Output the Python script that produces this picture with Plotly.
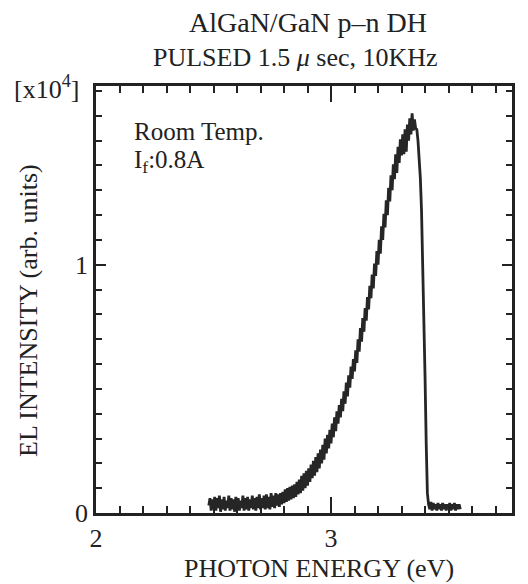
import plotly.graph_objects as go

# Photon energy (eV)
energy_ev = [
    2.480, 2.485, 2.490, 2.495, 2.500, 2.505, 2.510, 2.515, 2.520, 2.525,
    2.530, 2.535, 2.540, 2.545, 2.550, 2.555, 2.560, 2.565, 2.570, 2.575,
    2.580, 2.585, 2.590, 2.595, 2.600, 2.605, 2.610, 2.615, 2.620, 2.625,
    2.630, 2.635, 2.640, 2.645, 2.650, 2.655, 2.660, 2.665, 2.670, 2.675,
    2.680, 2.685, 2.690, 2.695, 2.700, 2.705, 2.710, 2.715, 2.720, 2.725,
    2.730, 2.735, 2.740, 2.745, 2.750, 2.755, 2.760, 2.765, 2.770, 2.775,
    2.780, 2.785, 2.790, 2.795, 2.800,
    2.805, 2.810, 2.815, 2.820, 2.825, 2.830, 2.835, 2.840, 2.845, 2.850,
    2.855, 2.860, 2.865, 2.870, 2.875, 2.880, 2.885, 2.890, 2.895, 2.900,
    2.905, 2.910, 2.915, 2.920, 2.925, 2.930, 2.935, 2.940, 2.945, 2.950,
    2.955, 2.960, 2.965, 2.970, 2.975, 2.980, 2.985, 2.990, 2.995, 3.000,
    3.005, 3.010, 3.015, 3.020, 3.025, 3.030, 3.035, 3.040, 3.045, 3.050,
    3.055, 3.060, 3.065, 3.070, 3.075, 3.080, 3.085, 3.090, 3.095, 3.100,
    3.105, 3.110, 3.115, 3.120, 3.125, 3.130, 3.135, 3.140, 3.145, 3.150,
    3.155, 3.160, 3.165, 3.170, 3.175, 3.180, 3.185, 3.190, 3.195, 3.200,
    3.205, 3.210, 3.215, 3.220, 3.225, 3.230, 3.235, 3.240, 3.245, 3.250,
    3.255, 3.260, 3.265, 3.270, 3.275, 3.280, 3.285, 3.290, 3.295, 3.300,
    3.305, 3.310, 3.315, 3.320, 3.325, 3.330, 3.335, 3.340, 3.345, 3.350,
    3.355, 3.360, 3.365, 3.370,
    3.375, 3.380, 3.385, 3.390, 3.395, 3.400, 3.405, 3.410, 3.415,
    3.420, 3.425, 3.430, 3.435, 3.440, 3.445, 3.450, 3.455, 3.460, 3.465,
    3.470, 3.475, 3.480, 3.485, 3.490, 3.495, 3.500, 3.505, 3.510, 3.515,
    3.520, 3.525, 3.530, 3.535, 3.540, 3.545, 3.550,
]

# EL intensity (x10^4, arb. units)
el_intensity = [
    0.030, 0.060, 0.010, 0.055, 0.015, 0.065, 0.010, 0.060, 0.020, 0.070,
    0.005, 0.055, 0.015, 0.065, 0.010, 0.050, 0.020, 0.070, 0.010, 0.060,
    0.015, 0.055, 0.005, 0.065, 0.015, 0.060, 0.010, 0.050, 0.020, 0.070,
    0.010, 0.060, 0.015, 0.065, 0.010, 0.055, 0.020, 0.070, 0.015, 0.060,
    0.010, 0.065, 0.020, 0.075, 0.015, 0.060, 0.020, 0.070, 0.015, 0.075,
    0.020, 0.065, 0.015, 0.080, 0.025, 0.070, 0.020, 0.080, 0.030, 0.075,
    0.025, 0.080, 0.035, 0.085, 0.040,
    0.095, 0.045, 0.100, 0.050, 0.105, 0.055, 0.110, 0.060, 0.115, 0.065,
    0.125, 0.075, 0.135, 0.080, 0.150, 0.090, 0.160, 0.100, 0.170, 0.110,
    0.180, 0.125, 0.195, 0.140, 0.210, 0.150, 0.225, 0.165, 0.240, 0.180,
    0.255, 0.200, 0.275, 0.215, 0.300, 0.240, 0.315, 0.260, 0.335, 0.280,
    0.360, 0.305, 0.385, 0.330, 0.410, 0.360, 0.435, 0.385, 0.460, 0.410,
    0.490, 0.440, 0.525, 0.470, 0.555, 0.505, 0.590, 0.540, 0.620, 0.570,
    0.655, 0.605, 0.700, 0.650, 0.745, 0.690, 0.785, 0.730, 0.825, 0.775,
    0.870, 0.820, 0.915, 0.865, 0.960, 0.905, 1.005, 0.955, 1.055, 1.000,
    1.100, 1.045, 1.155, 1.100, 1.205, 1.150, 1.260, 1.200, 1.310, 1.255,
    1.360, 1.300, 1.405, 1.345, 1.445, 1.370, 1.475, 1.410, 1.505, 1.440,
    1.525, 1.445, 1.545, 1.455, 1.565, 1.500, 1.590, 1.525, 1.610, 1.540,
    1.585, 1.550, 1.545, 1.500,
    1.440, 1.350, 1.220, 1.020, 0.800, 0.550, 0.280, 0.080, 0.035,
    0.015, 0.045, 0.010, 0.040, 0.015, 0.035, 0.010, 0.040, 0.015, 0.035,
    0.010, 0.040, 0.015, 0.035, 0.010, 0.035, 0.015, 0.040, 0.010, 0.035,
    0.015, 0.040, 0.010, 0.035, 0.015, 0.035, 0.015,
]

x_tick_vals = [2, 3]
x_tick_text = ["2", "3"]
y_tick_vals = [0, 1]
y_tick_text = ["0", "1"]

SERIF = "Liberation Serif"
FS = 26
INK = "#222"

fig = go.Figure()
fig.add_trace(go.Scatter(
    x=energy_ev, y=el_intensity, mode="lines",
    line=dict(color="#262626", width=2.8),
    showlegend=False, hoverinfo="skip",
))

# page body has an 8px margin; compensate so the plot box lands at
# x 96..512, y 86..513 of the 528x584 window
OFF = 8
W, H = 528 - OFF, 584 - OFF
L, R, T, B = 96 - OFF, 16, 86 - OFF, 71
pw, ph = W - L - R, H - T - B


def px_x(px):
    return (px - OFF - L) / pw


def px_y(py):
    return (H - B - (py - OFF)) / ph


fig.update_layout(
    width=W, height=H,
    margin=dict(l=L, r=R, t=T, b=B),
    paper_bgcolor="white", plot_bgcolor="white",
    font=dict(family=SERIF, size=FS, color=INK),
    xaxis=dict(
        range=[2, 3.77], tickvals=x_tick_vals, ticktext=x_tick_text,
        ticks="inside", ticklen=16, tickwidth=2, tickcolor=INK,
        showline=True, linewidth=2.5, linecolor=INK, mirror="allticks",
        showgrid=False, zeroline=False,
        tickfont=dict(family=SERIF, size=FS, color=INK),
        minor=dict(dtick=0.1, tick0=2, ticks="inside", ticklen=7,
                   tickwidth=1.8, tickcolor=INK, showgrid=False),
    ),
    yaxis=dict(
        range=[0, 1.72], tickvals=y_tick_vals, ticktext=y_tick_text,
        ticks="inside", ticklen=10, tickwidth=2, tickcolor=INK,
        showline=True, linewidth=2.5, linecolor=INK, mirror="allticks",
        showgrid=False, zeroline=False,
        tickfont=dict(family=SERIF, size=FS, color=INK),
        minor=dict(dtick=0.1, tick0=0, ticks="inside", ticklen=6,
                   tickwidth=1.8, tickcolor=INK, showgrid=False),
    ),
)

ann = [
    dict(text="AlGaN/GaN p\u2013n DH", x=px_x(308), y=px_y(22), size=28),
    dict(text="PULSED 1.5 <i>\u03bc</i> sec, 10KHz", x=px_x(295), y=px_y(58)),
    dict(text="[x10<sup>4</sup>]", x=px_x(46), y=px_y(87)),
    dict(text="Room Temp.", x=px_x(132), y=px_y(131), xanchor="left", size=25),
    dict(text="I<sub>f</sub>:0.8A", x=px_x(132), y=px_y(161), xanchor="left", size=25),
    dict(text="PHOTON ENERGY (eV)", x=px_x(319), y=px_y(568)),
    dict(text="EL INTENSITY (arb. units)", x=px_x(28), y=px_y(311), textangle=-90),
]
for a in ann:
    a.setdefault("xanchor", "center")
    size = a.pop("size", FS)
    a.update(xref="paper", yref="paper", yanchor="middle", showarrow=False,
             font=dict(family=SERIF, size=size, color=INK))
    fig.add_annotation(**a)

fig.write_html("out.html")
